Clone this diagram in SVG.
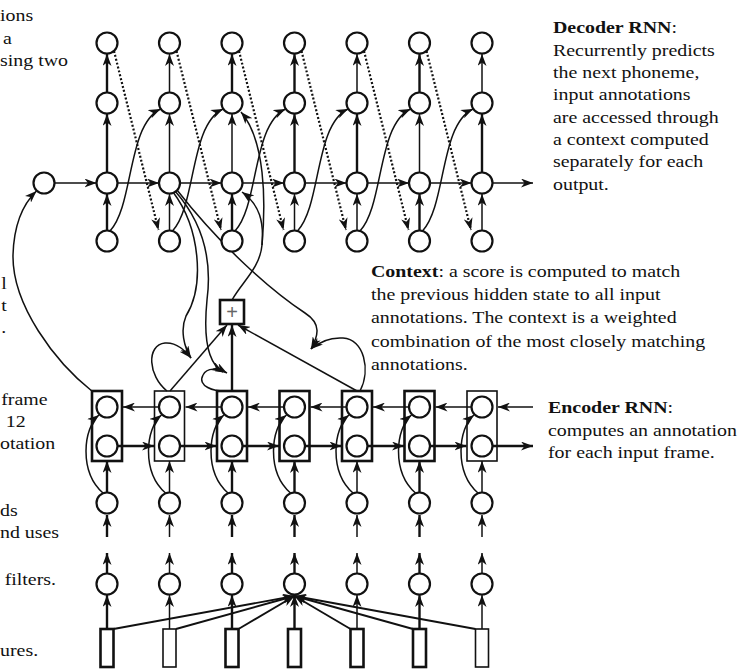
<svg xmlns="http://www.w3.org/2000/svg" width="740" height="669" viewBox="0 0 740 669">
  <style>
    .n { fill: #fff; stroke: #111; stroke-width: 2.2; }
    .box { fill: none; stroke: #111; }
    .bk { stroke-width: 2.6; }
    .bn { stroke-width: 1.6; }
    .c { fill: none; stroke: #111; stroke-width: 1.5; marker-end: url(#ah); }
    .ck { fill: none; stroke: #111; stroke-width: 2.4; marker-end: url(#ah); }
    .cf { fill: none; stroke: #111; stroke-width: 1.9; marker-end: url(#ah); }
    .dot { fill: none; stroke: #111; stroke-width: 2.2; stroke-dasharray: 2 2; marker-end: url(#ah); }
    text { font-family: "Liberation Serif", "Times New Roman", serif; font-size: 17px; fill: #111; }
    .b { font-weight: bold; }
  </style>
  <defs>
    <marker id="ah" markerUnits="userSpaceOnUse" markerWidth="13" markerHeight="9" refX="12" refY="4.5" orient="auto">
      <path d="M0,0 L12,4.5 L0,9 L3.5,4.5 z" fill="#111"/>
    </marker>
  </defs>

  <rect width="740" height="669" fill="#fff"/>

  <!-- connectors -->
  <g id="connectors">
    <!-- decoder: input -> hidden -> state -> output columns -->
    <path class="ck" d="M107,230.5 L107,194"/>
    <path class="ck" d="M107,172.5 L107,114"/>
    <path class="ck" d="M107,92.5 L107,54"/>
    <path class="c" d="M169.5,230.5 L169.5,194"/>
    <path class="c" d="M169.5,172.5 L169.5,114"/>
    <path class="c" d="M169.5,92.5 L169.5,54"/>
    <path class="ck" d="M232,230.5 L232,194"/>
    <path class="c" d="M232,172.5 L232,114"/>
    <path class="ck" d="M232,92.5 L232,54"/>
    <path class="c" d="M294.5,230.5 L294.5,194"/>
    <path class="ck" d="M294.5,172.5 L294.5,114"/>
    <path class="ck" d="M294.5,92.5 L294.5,54"/>
    <path class="c" d="M357,230.5 L357,194"/>
    <path class="ck" d="M357,172.5 L357,114"/>
    <path class="c" d="M357,92.5 L357,54"/>
    <path class="ck" d="M419.5,230.5 L419.5,194"/>
    <path class="c" d="M419.5,172.5 L419.5,114"/>
    <path class="ck" d="M419.5,92.5 L419.5,54"/>
    <path class="c" d="M482,230.5 L482,194"/>
    <path class="ck" d="M482,172.5 L482,114"/>
    <path class="c" d="M482,92.5 L482,54"/>

    <!-- decoder: recurrent hidden chain -->
    <path class="c" d="M54.5,183 L96.5,183"/>
    <path class="c" d="M117.5,183 L159,183"/>
    <path class="c" d="M180,183 L221.5,183"/>
    <path class="c" d="M242.5,183 L284,183"/>
    <path class="c" d="M305,183 L346.5,183"/>
    <path class="c" d="M367.5,183 L409,183"/>
    <path class="c" d="M430,183 L471.5,183"/>
    <path class="c" d="M492.5,183 L533,183"/>

    <!-- decoder: previous output fed to next input (dotted) -->
    <path class="dot" d="M114,51 L158.5,230"/>
    <path class="dot" d="M176.5,51 L221,230"/>
    <path class="dot" d="M239,51 L283.5,230"/>
    <path class="dot" d="M301.5,51 L346,230"/>
    <path class="dot" d="M364,51 L408.5,230"/>
    <path class="dot" d="M426.5,51 L471,230"/>

    <!-- decoder: input to next state (S curves) -->
    <path class="c" d="M110,231 C134,205 127,125 160.5,109"/>
    <path class="c" d="M172.5,231 C196.5,205 189.5,125 223,109"/>
    <path class="c" d="M235,231 C259,205 252,125 285.5,109"/>
    <path class="c" d="M297.5,231 C321.5,205 314.5,125 348,109"/>
    <path class="c" d="M360,231 C384,205 377,125 410.5,109"/>
    <path class="c" d="M422.5,231 C446.5,205 439.5,125 473,109"/>

    <!-- attention: previous hidden state to score junctions -->
    <path class="c" d="M173,192 C200,228 205,285 186,316 C180,330 184,347 191,358"/>
    <path class="c" d="M175,191 C205,225 212,262 207,300 C203,340 209,364 223,372"/>
    <path class="c" d="M177,190 C220,245 270,290 305,313 C322,324 318,336 311,349"/>
    <!-- attention: annotations to score junctions -->
    <path class="c" d="M167,391 C148,376 146,345 165,343 C177,342 185,351 191,358"/>
    <path class="c" d="M229,391 C213,392 197,386 203,375 C207,367 218,368 227,373"/>
    <path class="c" d="M360,391 C371,370 364,339 343,338 C328,337 318,343 311,349"/>
    <!-- attention: weighted sum -->
    <path class="c" d="M170,391 L227,325"/>
    <path class="ck" d="M232,391 L232,325"/>
    <path class="c" d="M357,391 L238,325"/>
    <!-- context into decoder -->
    <path class="c" d="M232,300 C242,282 260,268 262,245 C264,222 260,205 242,192"/>
    <path class="c" d="M262,245 C266,200 265,140 241,112"/>
    <!-- final annotation initialises decoder -->
    <path class="c" d="M93,392 C55,362 12,305 13,255 C14,222 24,203 36.5,191"/>

    <!-- encoder: backward chain -->
    <path class="c" d="M159,407 L123,407"/>
    <path class="c" d="M221.5,407 L185.5,407"/>
    <path class="c" d="M284,407 L248,407"/>
    <path class="c" d="M346.5,407 L310.5,407"/>
    <path class="c" d="M409,407 L373,407"/>
    <path class="c" d="M471.5,407 L435.5,407"/>
    <path class="c" d="M533,407 L498,407"/>
    <!-- encoder: forward chain -->
    <path class="ck" d="M117.5,446 L154,446"/>
    <path class="ck" d="M180,446 L216.5,446"/>
    <path class="ck" d="M242.5,446 L279,446"/>
    <path class="ck" d="M305,446 L341.5,446"/>
    <path class="ck" d="M367.5,446 L404,446"/>
    <path class="ck" d="M430,446 L466.5,446"/>
    <path class="ck" d="M492.5,446 L533,446"/>

    <!-- encoder inputs -->
    <path class="ck" d="M107,492.5 L107,461"/>
    <path class="c" d="M169.5,492.5 L169.5,461"/>
    <path class="ck" d="M232,492.5 L232,461"/>
    <path class="ck" d="M294.5,492.5 L294.5,461"/>
    <path class="c" d="M357,492.5 L357,461"/>
    <path class="ck" d="M419.5,492.5 L419.5,461"/>
    <path class="c" d="M482,492.5 L482,461"/>
    <path class="c" d="M103,493 C79,472 83,428 99,415"/>
    <path class="c" d="M165.5,493 C141.5,472 145.5,428 161.5,415"/>
    <path class="c" d="M228,493 C204,472 208,428 224,415"/>
    <path class="c" d="M290.5,493 C266.5,472 270.5,428 286.5,415"/>
    <path class="c" d="M353,493 C329,472 333,428 349,415"/>
    <path class="c" d="M415.5,493 C391.5,472 395.5,428 411.5,415"/>
    <path class="c" d="M478,493 C454,472 458,428 474,415"/>

    <!-- lower layers -->
    <path class="ck" d="M107,537 L107,515"/>
    <path class="c" d="M169.5,537 L169.5,515"/>
    <path class="ck" d="M232,537 L232,515"/>
    <path class="ck" d="M294.5,537 L294.5,515"/>
    <path class="c" d="M357,537 L357,515"/>
    <path class="ck" d="M419.5,537 L419.5,515"/>
    <path class="c" d="M482,537 L482,515"/>
    <path class="ck" d="M107,573.5 L107,553"/>
    <path class="c" d="M169.5,573.5 L169.5,553"/>
    <path class="ck" d="M232,573.5 L232,553"/>
    <path class="ck" d="M294.5,573.5 L294.5,553"/>
    <path class="c" d="M357,573.5 L357,553"/>
    <path class="ck" d="M419.5,573.5 L419.5,553"/>
    <path class="c" d="M482,573.5 L482,553"/>

    <!-- frames to filters -->
    <path class="ck" d="M107,629 L107,595"/>
    <path class="c" d="M169.5,629 L169.5,595"/>
    <path class="ck" d="M232,629 L232,595"/>
    <path class="ck" d="M294.5,629 L294.5,595"/>
    <path class="c" d="M357,629 L357,595"/>
    <path class="ck" d="M419.5,629 L419.5,595"/>
    <path class="c" d="M482,629 L482,595"/>
    <!-- filter fan-in -->
    <path class="cf" d="M113.5,629 L294.5,596"/>
    <path class="cf" d="M176,629 L294.5,596"/>
    <path class="cf" d="M238.5,629 L294.5,596"/>
    <path class="cf" d="M350.5,629 L294.5,596"/>
    <path class="cf" d="M413,629 L294.5,596"/>
    <path class="cf" d="M475.5,629 L294.5,596"/>
  </g>

  <!-- decoder nodes -->
  <g id="dec-h0"><circle class="n" cx="44" cy="183" r="10.5"/></g>
  <g id="dec-0"><circle class="n" cx="107" cy="43" r="10.5"/><circle class="n" cx="107" cy="103" r="10.5"/><circle class="n" cx="107" cy="183" r="10.5"/><circle class="n" cx="107" cy="241" r="10.5"/></g>
  <g id="dec-1"><circle class="n" cx="169.5" cy="43" r="10.5"/><circle class="n" cx="169.5" cy="103" r="10.5"/><circle class="n" cx="169.5" cy="183" r="10.5"/><circle class="n" cx="169.5" cy="241" r="10.5"/></g>
  <g id="dec-2"><circle class="n" cx="232" cy="43" r="10.5"/><circle class="n" cx="232" cy="103" r="10.5"/><circle class="n" cx="232" cy="183" r="10.5"/><circle class="n" cx="232" cy="241" r="10.5"/></g>
  <g id="dec-3"><circle class="n" cx="294.5" cy="43" r="10.5"/><circle class="n" cx="294.5" cy="103" r="10.5"/><circle class="n" cx="294.5" cy="183" r="10.5"/><circle class="n" cx="294.5" cy="241" r="10.5"/></g>
  <g id="dec-4"><circle class="n" cx="357" cy="43" r="10.5"/><circle class="n" cx="357" cy="103" r="10.5"/><circle class="n" cx="357" cy="183" r="10.5"/><circle class="n" cx="357" cy="241" r="10.5"/></g>
  <g id="dec-5"><circle class="n" cx="419.5" cy="43" r="10.5"/><circle class="n" cx="419.5" cy="103" r="10.5"/><circle class="n" cx="419.5" cy="183" r="10.5"/><circle class="n" cx="419.5" cy="241" r="10.5"/></g>
  <g id="dec-6"><circle class="n" cx="482" cy="43" r="10.5"/><circle class="n" cx="482" cy="103" r="10.5"/><circle class="n" cx="482" cy="183" r="10.5"/><circle class="n" cx="482" cy="241" r="10.5"/></g>

  <!-- context sum -->
  <g id="ctx-sum">
    <rect x="220" y="300" width="24" height="24" fill="#fff" stroke="#111" stroke-width="2.6"/>
    <text x="232" y="319" text-anchor="middle" style="font-family:'Liberation Sans',sans-serif;font-size:20px;fill:#666">+</text>
  </g>

  <!-- encoder nodes -->
  <g id="enc-0"><rect class="box bk" x="92" y="391" width="30" height="70"/><circle class="n" cx="107" cy="407" r="10.5"/><circle class="n" cx="107" cy="446" r="10.5"/></g>
  <g id="enc-1"><rect class="box bn" x="154.5" y="391" width="30" height="70"/><circle class="n" cx="169.5" cy="407" r="10.5"/><circle class="n" cx="169.5" cy="446" r="10.5"/></g>
  <g id="enc-2"><rect class="box bk" x="217" y="391" width="30" height="70"/><circle class="n" cx="232" cy="407" r="10.5"/><circle class="n" cx="232" cy="446" r="10.5"/></g>
  <g id="enc-3"><rect class="box bk" x="279.5" y="391" width="30" height="70"/><circle class="n" cx="294.5" cy="407" r="10.5"/><circle class="n" cx="294.5" cy="446" r="10.5"/></g>
  <g id="enc-4"><rect class="box bk" x="342" y="391" width="30" height="70"/><circle class="n" cx="357" cy="407" r="10.5"/><circle class="n" cx="357" cy="446" r="10.5"/></g>
  <g id="enc-5"><rect class="box bk" x="404.5" y="391" width="30" height="70"/><circle class="n" cx="419.5" cy="407" r="10.5"/><circle class="n" cx="419.5" cy="446" r="10.5"/></g>
  <g id="enc-6"><rect class="box bn" x="467" y="391" width="30" height="70"/><circle class="n" cx="482" cy="407" r="10.5"/><circle class="n" cx="482" cy="446" r="10.5"/></g>

  <!-- input, filter and frame nodes -->
  <g id="col-0"><circle class="n" cx="107" cy="503" r="10.5"/><circle class="n" cx="107" cy="584" r="10.5"/><rect class="box bk" x="100.5" y="629" width="13" height="38"/></g>
  <g id="col-1"><circle class="n" cx="169.5" cy="503" r="10.5"/><circle class="n" cx="169.5" cy="584" r="10.5"/><rect class="box bn" x="163" y="629" width="13" height="38"/></g>
  <g id="col-2"><circle class="n" cx="232" cy="503" r="10.5"/><circle class="n" cx="232" cy="584" r="10.5"/><rect class="box bk" x="225.5" y="629" width="13" height="38"/></g>
  <g id="col-3"><circle class="n" cx="294.5" cy="503" r="10.5"/><circle class="n" cx="294.5" cy="584" r="10.5"/><rect class="box bk" x="288" y="629" width="13" height="38"/></g>
  <g id="col-4"><circle class="n" cx="357" cy="503" r="10.5"/><circle class="n" cx="357" cy="584" r="10.5"/><rect class="box bk" x="350.5" y="629" width="13" height="38"/></g>
  <g id="col-5"><circle class="n" cx="419.5" cy="503" r="10.5"/><circle class="n" cx="419.5" cy="584" r="10.5"/><rect class="box bk" x="413" y="629" width="13" height="38"/></g>
  <g id="col-6"><circle class="n" cx="482" cy="503" r="10.5"/><circle class="n" cx="482" cy="584" r="10.5"/><rect class="box bn" x="475.5" y="629" width="13" height="38"/></g>

  <!-- annotation texts (widened serif) -->
  <g id="txt-decoder" transform="translate(553,0) scale(1.17,1)">
    <text x="0" y="33"><tspan class="b">Decoder RNN</tspan>:</text>
    <text x="0" y="56">Recurrently predicts</text>
    <text x="0" y="78">the next phoneme,</text>
    <text x="0" y="100.5">input annotations</text>
    <text x="0" y="123">are accessed through</text>
    <text x="0" y="145">a context computed</text>
    <text x="0" y="167.5">separately for each</text>
    <text x="0" y="190">output.</text>
  </g>
  <g id="txt-context" transform="translate(371,0) scale(1.17,1)">
    <text x="0" y="277"><tspan class="b">Context</tspan>: a score is computed to match</text>
    <text x="0" y="300">the previous hidden state to all input</text>
    <text x="0" y="323.5">annotations. The context is a weighted</text>
    <text x="0" y="347">combination of the most closely matching</text>
    <text x="0" y="370">annotations.</text>
  </g>
  <g id="txt-encoder" transform="translate(548,0) scale(1.17,1)">
    <text x="0" y="413"><tspan class="b">Encoder RNN</tspan>:</text>
    <text x="0" y="436">computes an annotation</text>
    <text x="0" y="458">for each input frame.</text>
  </g>
  <g id="txt-left" transform="scale(1.17,1)">
    <text x="0" y="21">ions</text>
    <text x="2.5" y="44">a</text>
    <text x="0" y="66">sing two</text>
    <text x="1" y="289">l</text>
    <text x="1" y="311">t</text>
    <text x="1" y="333">.</text>
    <text x="1" y="405">frame</text>
    <text x="5" y="427">12</text>
    <text x="0" y="449">otation</text>
    <text x="0" y="516">ds</text>
    <text x="0" y="538">nd uses</text>
    <text x="4" y="585">filters.</text>
    <text x="0" y="656">ures.</text>
  </g>
</svg>
